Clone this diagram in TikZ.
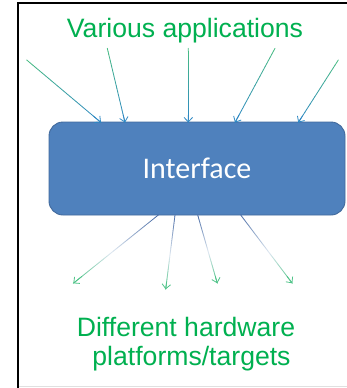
\documentclass[tikz,border=0pt]{standalone}
\usepackage{fontspec}
\setmainfont{Liberation Sans}
\newfontfamily\calib{Carlito}
\usetikzlibrary{arrows.meta,calc}

\definecolor{boxfill}{HTML}{4F81BD}
\definecolor{boxline}{HTML}{41699C}
\definecolor{labelgreen}{HTML}{00B050}
\definecolor{inTop}{HTML}{47BC82}
\definecolor{inBot}{HTML}{2E88C4}
\definecolor{outTop}{HTML}{4A6CA6}
\definecolor{outMid}{HTML}{DCE6F0}
\definecolor{outBot}{HTML}{50C489}

% line with a colour blend from #3 (at #1) to #4 (at #2)
\newcommand{\blendline}[4]{%
  \foreach \k in {0,...,23}{%
    \pgfmathsetmacro{\pa}{\k/24}%
    \pgfmathsetmacro{\pb}{(\k+1)/24}%
    \pgfmathtruncatemacro{\pc}{100-\k*100/23}%
    \draw[conn, #3!\pc!#4] ($(#1)!\pa!(#2)$) -- ($(#1)!\pb!(#2)$);
  }%
}
% arrow tip at the end of a connector, in colour #3
\newcommand{\tipat}[3]{%
  \draw[conn, #3, -{Straight Barb[length=4.5pt,width=8.5pt]}] ($(#1)!0.9!(#2)$) -- (#2);
}

\tikzset{
  conn/.style={line width=0.8pt, line cap=round},
  ifacebox/.style={draw=boxline, fill=boxfill, line width=0.9pt, rounded corners=14pt,
    minimum width=296pt, minimum height=93pt, text=white, font=\calib\fontsize{30}{36}\selectfont},
  greenlabel/.style={text=labelgreen, font=\fontsize{26.6}{31}\selectfont, inner sep=0pt, anchor=base}
}

\begin{document}
\begin{tikzpicture}[x=1pt,y=-1pt]
  \useasboundingbox (0,0) rectangle (347,388);
  \fill[white] (0,0) rectangle (347,388);

  % frame
  \draw[black!12, line width=1pt] (18,386.5) -- (347,386.5);
  \draw[black, line width=2pt] (18,388) -- (18,2.5) -- (347,2.5);

  % central box
  \node[ifacebox] (iface) at (197,168.5) {Interface};

  % labels
  \node[greenlabel] (apps) at (185,37) {Various applications};
  \node[greenlabel] (hwA) at (186,336.7) {Different hardware};
  \node[greenlabel] (hwB) at (191.5,365) {platforms/targets};

  % incoming connectors
  \coordinate (i1s) at (26.7,60);   \coordinate (i1e) at (101,122.5);
  \coordinate (i2s) at (107.3,48.3); \coordinate (i2e) at (125,122.5);
  \coordinate (i3s) at (188.3,48.3); \coordinate (i3e) at (188.3,122.5);
  \coordinate (i4s) at (275,48.3);  \coordinate (i4e) at (235,122.5);
  \coordinate (i5s) at (338.3,60);  \coordinate (i5e) at (298.3,122.5);
  \foreach \n in {1,...,5}{
    \blendline{i\n s}{i\n e}{inTop}{inBot}
    \tipat{i\n s}{i\n e}{inBot}
  }

  % outgoing connectors
  \coordinate (o1s) at (158.3,215); \coordinate (o1e) at (73.3,283.3);
  \coordinate (o2s) at (175,215);   \coordinate (o2e) at (165.7,289.3);
  \coordinate (o3s) at (197.7,215); \coordinate (o3e) at (217.3,283.3);
  \coordinate (o4s) at (240.7,215); \coordinate (o4e) at (292.3,283.3);
  \foreach \n in {1,...,4}{
    \coordinate (o\n m) at ($(o\n s)!0.55!(o\n e)$);
    \blendline{o\n s}{o\n m}{outTop}{outMid}
    \blendline{o\n m}{o\n e}{outMid}{outBot}
    \tipat{o\n s}{o\n e}{outBot}
  }
\end{tikzpicture}
\end{document}
